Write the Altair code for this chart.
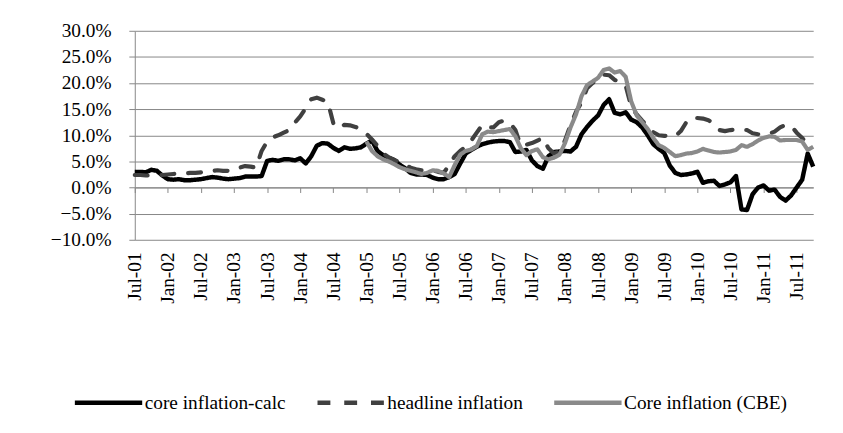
import json
import altair as alt
import pandas as pd

tick_labels = ["Jul-01", "Jan-02", "Jul-02", "Jan-03", "Jul-03", "Jan-04", "Jul-04",
               "Jan-05", "Jul-05", "Jan-06", "Jul-06", "Jan-07", "Jul-07", "Jan-08",
               "Jul-08", "Jan-09", "Jul-09", "Jan-10", "Jul-10", "Jan-11", "Jul-11"]
series_names = ["core inflation-calc", "headline inflation", "Core inflation (CBE)"]

core_calc = [
    3.0, 3.0, 2.9, 3.4, 3.2, 2.3, 1.6, 1.5, 1.6, 1.4, 1.4, 1.5,
    1.6, 1.8, 2.0, 1.9, 1.7, 1.6, 1.7, 1.8, 2.1, 2.1, 2.1, 2.2,
    5.1, 5.3, 5.1, 5.4, 5.4, 5.2, 5.6, 4.6, 6.0, 8.0, 8.5, 8.4,
    7.6, 7.0, 7.7, 7.4, 7.5, 7.7, 8.4, 9.0, 7.0, 6.2, 5.7, 5.3,
    4.4, 3.7, 2.8, 2.5, 2.5, 2.4, 1.9, 1.6, 1.6, 2.0, 2.6, 4.6,
    6.5, 7.2, 7.8, 8.3, 8.6, 8.8, 8.9, 8.9, 8.7, 6.8, 6.9, 7.2,
    5.2, 4.1, 3.6, 6.0, 6.8, 6.9, 7.0, 6.9, 7.8, 10.2, 11.6, 12.8,
    13.8, 15.8, 16.9, 14.3, 14.0, 14.4, 13.0, 12.5, 11.5, 10.0, 8.3, 7.4,
    6.6, 4.2, 2.8, 2.4, 2.5, 2.7, 3.0, 0.9, 1.2, 1.3, 0.3, 0.6,
    1.0, 2.2, -4.2, -4.3, -1.3, 0.0, 0.4, -0.6, -0.4, -1.8, -2.5, -1.5,
    0.0, 1.5, 6.5, 4.0]

headline = [
    2.4, 2.4, 2.3, 2.3, 2.4, 2.4, 2.5, 2.6, 2.7, 2.7, 2.8, 2.8,
    2.9, 3.0, 3.2, 3.3, 3.2, 3.2, 3.3, 3.8, 4.1, 4.0, 3.8, 7.0,
    8.8, 9.6, 10.0, 10.5, 11.0, 12.4, 13.6, 15.2, 16.9, 17.2, 16.8, 16.4,
    12.3, 11.3, 12.0, 11.9, 11.6, 11.2, 10.3, 9.2, 8.0, 6.6, 5.8, 5.3,
    4.9, 4.4, 3.8, 3.5, 3.3, 3.2, 3.3, 3.0, 2.8, 4.3, 6.0, 7.0,
    7.8, 9.0, 10.5, 12.0, 11.5, 11.5, 12.5, 12.8, 12.4, 11.0, 8.0, 8.2,
    8.5, 9.0, 9.5, 7.5, 6.5, 7.0, 9.0, 12.0, 14.5, 16.3, 19.0, 20.0,
    20.8, 21.6, 21.5, 20.6, 20.3, 19.5, 15.5, 14.0, 12.8, 11.7, 10.6, 10.0,
    9.9, 9.9, 9.8, 10.8, 12.5, 13.4, 13.3, 13.2, 12.9, 12.2, 11.0, 10.8,
    11.0, 11.1, 11.1, 11.0, 10.4, 10.2, 10.3, 10.3, 10.7, 11.5, 12.0, 11.8,
    10.5, 9.5, 8.2, 7.8]

core_cbe = [None] * 42 + [
    8.8, 7.0, 6.0, 5.4, 5.0, 4.5,
    3.9, 3.5, 3.2, 2.9, 2.6, 2.8, 3.3, 3.2, 2.7, 2.0, 4.3, 6.3,
    7.0, 7.3, 7.9, 10.2, 10.7, 10.6, 10.8, 11.0, 11.2, 9.8, 7.5, 6.2,
    7.0, 7.3, 5.8, 5.4, 5.7, 6.3, 8.5, 11.5, 14.0, 17.5, 19.6, 20.3,
    21.0, 22.5, 22.8, 22.0, 22.3, 21.2, 16.5, 13.8, 12.5, 11.2, 9.5, 8.1,
    7.6, 6.8, 6.0, 6.2, 6.5, 6.6, 6.9, 7.4, 7.1, 6.8, 6.7, 6.8,
    6.9, 7.2, 8.1, 7.8, 8.3, 9.0, 9.5, 9.8, 9.7, 9.0, 9.1, 9.1,
    9.1, 8.8, 7.2, 7.8]

rows = []
for name, vals in zip(series_names, [core_calc, headline, core_cbe]):
    for i, v in enumerate(vals):
        if v is not None:
            rows.append({"m": i, "v": v, "s": name})
df = pd.DataFrame(rows)

FONT = "Liberation Serif"
FS = 19.5
GRID = "#878787"
W, H = 685, 211
zero_from_bottom = H * 10 / 40

color_scale = alt.Scale(domain=series_names, range=["#000000", "#404040", "#8a8a8a"])
dash_scale = alt.Scale(domain=series_names, range=[[1, 0], [13, 14], [1, 0]])

label_expr = json.dumps(tick_labels) + "[round(datum.value / 6)]"

x_enc = alt.X("m:Q", title=None,
              scale=alt.Scale(domain=[0, 123], nice=False, zero=False),
              axis=alt.Axis(values=list(range(0, 121, 6)), labelExpr=label_expr,
                            labelAngle=-90, labelAlign="right", labelBaseline="middle",
                            offset=-zero_from_bottom, tickSize=5, labelPadding=60,
                            grid=False, domainColor=GRID, tickColor=GRID))
y_enc = alt.Y("v:Q", title=None,
              scale=alt.Scale(domain=[-10, 30], nice=False),
              axis=alt.Axis(values=list(range(-10, 31, 5)),
                            labelExpr="format(datum.value, '.1f') + '%'",
                            grid=True, gridColor=GRID, tickSize=6, labelPadding=18,
                            domainColor=GRID, tickColor=GRID))

legend = alt.Legend(title=None, orient="none", direction="horizontal",
                    legendX=-63, legendY=339, symbolType="stroke", symbolSize=4624,
                    symbolStrokeWidth=4.5, labelOffset=0, columnPadding=22,
                    labelLimit=400,
                    labelFont=FONT, labelFontSize=FS, labelColor="#000000")

layers = []
widths = [4.5, 4.2, 4.2]
for idx, name in enumerate(series_names):
    layers.append(
        alt.Chart(df).transform_filter(alt.datum.s == name)
        .mark_line(strokeWidth=widths[idx], strokeJoin="round",
                   strokeCap="round" if idx == 1 else "butt")
        .encode(x=x_enc, y=y_enc,
                color=alt.Color("s:N", scale=color_scale, legend=legend),
                strokeDash=alt.StrokeDash("s:N", scale=dash_scale, legend=legend))
    )

chart = alt.layer(*layers).properties(
    width=W, height=H,
    autosize=alt.AutoSizeParams(type="none"),
    padding={"left": 128, "top": 21, "right": 22, "bottom": 185},
).configure_view(stroke=None).configure_axis(
    labelFont=FONT, labelFontSize=FS, labelColor="#000000"
).configure_legend(padding=0)

chart.save("out.html", embed_options={"renderer": "svg", "actions": False})
